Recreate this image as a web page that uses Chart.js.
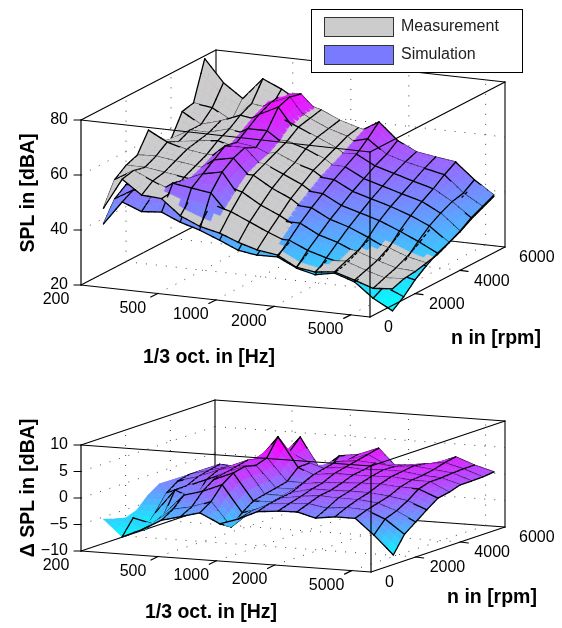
<!DOCTYPE html>
<html>
<head>
<meta charset="utf-8">
<script src="https://cdn.jsdelivr.net/npm/chart.js@4"></script>
<style>
  html, body { margin: 0; padding: 0; background: #fff; }
  #wrap { width: 562px; height: 628px; }
</style>
</head>
<body>
<div id="wrap"><canvas id="chart" width="562" height="628"></canvas></div>
<script>
// 1/3 octave bands and engine speeds of the measured grid
const frequencies = [200, 250, 315, 400, 500, 630, 800, 1000, 1250, 1600, 2000, 2500, 3150, 4000, 5000, 6300]
const speeds = [1000, 1500, 2000, 2500, 3000, 3500, 4000, 4500, 5000, 5500]

const freqTicks = [200, 500, 1000, 2000, 5000]
const speedTicks = [0, 2000, 4000, 6000]
const splTicks = [20, 40, 60, 80]
const deltaTicks = [-10, -5, 0, 5, 10]

// one row per speed, one column per band
const measurementLevels = [
  [43.7, 55, 50, 49.5, 44, 41, 39.3, 36.7, 34.7, 33.6, 30, 29, 29.8, 27.6, 25.4, 26],
  [52, 56, 53, 50, 49, 47, 45, 42, 39, 36, 33, 31, 31.5, 29, 27, 27.5],
  [55, 55, 54, 53, 52, 52, 50, 46, 43, 39, 36, 34, 33, 30.5, 28.5, 28],
  [56.6, 57, 56, 55, 54, 54, 54, 50, 47, 42, 39, 37, 35, 33, 30.5, 29],
  [63.6, 60, 58, 57, 57, 56, 56, 53, 50, 45, 42, 40, 38, 36, 33, 30],
  [57, 58, 59, 60, 58, 56, 58, 55, 53, 48, 45, 43, 41, 39, 36, 32],
  [56, 60, 60, 62, 61, 60, 60, 58, 55, 50, 47, 45, 43, 41, 38, 34],
  [64, 60, 62, 65, 64, 66, 63, 60, 57, 52, 49, 47, 45, 43, 40, 36.5],
  [65, 64, 60, 67, 66, 68, 64, 61, 59, 54, 51, 49, 47, 45, 42, 38.5],
  [79, 71, 66, 74, 71, 67, 65, 62, 60, 58, 54, 51, 49, 47.5, 44, 40.5]
]

const simulationLevels = [
  [38, 46.7, 44, 44.6, 41.7, 39.6, 36.7, 33.8, 32.8, 33, 29.7, 28, 29.4, 27, 21.8, 18],
  [45, 49, 48, 53, 52, 51, 43, 39, 37, 37, 34, 32, 30.5, 27.5, 24, 21],
  [48, 49, 50, 52, 55, 56.5, 47, 44, 41, 41, 37.5, 35.5, 32.5, 29.5, 26.5, 25],
  [51, 51, 53, 53, 58, 59.4, 52, 47, 45, 44.5, 41, 39, 36, 32.5, 30, 28],
  [59, 56, 55, 55, 61, 61, 54, 50, 48, 47.5, 44, 42, 40, 37, 34, 30.5],
  [54, 56, 57, 57, 60, 59, 56, 53, 51, 50.5, 47, 45, 43, 40.5, 37.5, 32.2],
  [53, 58, 58, 59, 63, 63, 58, 55.5, 53, 53, 49.5, 47.5, 45.5, 43.5, 40, 34.2],
  [60, 58, 60, 62, 66, 69.5, 60, 58, 55, 55.5, 52, 50, 48, 46, 42, 37],
  [61, 61, 57, 64, 68, 71, 62, 59, 57, 59, 54, 52, 50.5, 49, 43, 39],
  [75, 66, 63, 70, 69, 70, 63, 60, 58.5, 63, 57, 53.6, 52.5, 51.5, 45.8, 41]
]

const deltaLevels = [
  [-5.4, -8.5, -6.9, -4.8, -3.9, -2.9, -4.7, -3.5, -1.9, -1.5, -1.4, -2.3, -1.8, -1.8, -4.7, -8.2],
  [-6.1, -5.6, -6.5, -3.5, -2.8, -1.5, -6, -3, -1.2, -0.8, -0.6, -1.2, -0.8, -1, -2.4, -5],
  [-6.6, -8.6, -5.5, -1.5, -0.5, 1, -4, -3, -0.8, -0.2, 0.2, 0, 0, -0.4, -1.6, -3.4],
  [-5.8, -6, -1.5, -3, 1, 2.5, -2.5, -2.5, -0.5, 0.5, 0.5, 0.6, 0.6, 0.2, -0.4, -1.8],
  [-3.7, -3, -1.5, 0, 1.5, 3, -2, -2, 0.5, 1, 1.2, 1.4, 1.5, 1.2, 1.15, -0.3],
  [-2.3, -1.5, -0.5, 1, 2, 2.5, -1.5, -1.5, 1.5, 2, 2, 2, 2.2, 1.8, 1.8, 0.1],
  [-2.4, -1, 0, 1, 2.5, 3.2, -1, -1, 2, 2.5, 2.3, 2.5, 2.5, 2, 1.8, 0.8],
  [-2.6, -1, 0.5, -0.1, 1.9, 6.5, 1, -0.5, 2.5, 3, 2.8, 2.4, 2.8, 2.4, 2, 0.8],
  [-2.8, -1.9, -0.5, -0.5, 1, 2.9, 1.1, 0, 2, 3.5, 1.8, 2, 2.5, 3, 2.1, 0.85],
  [-2.9, -4, -2, -0.2, 0.8, 5.05, -0.9, 2, 2.5, 4, 0.5, 1, 1.9, 3.4, 2.1, 1.1]
]

const FONT = '"Liberation Sans", Arial, sans-serif'
const GREY = '#cccccc'
const SUBDIV = 3

const upper = {
  left: [81, 285], alongFreq: [289, 32], alongSpeed: [135, -70], height: 165,
  zMin: 20, zMax: 80, zTicks: splTicks, cLow: 18, cHigh: 74, firstColumnLine: true,
  zTitle: 'SPL in [dBA]', zTitleAt: [29, 193], fTitleAt: [209, 358], nTitleAt: [496, 339]
}
const lower = {
  left: [81, 551], alongFreq: [290, 21], alongSpeed: [134, -45], height: 106,
  zMin: -10, zMax: 10, zTicks: deltaTicks, cLow: -8.5, cHigh: 5.2, firstColumnLine: false,
  zTitle: '\u0394 SPL in [dBA]', zTitleAt: [29, 488], fTitleAt: [211, 613], nTitleAt: [492, 598]
}

const freqPos = (f) => Math.log10(f / 200) / Math.log10(6300 / 200)
const speedPos = (n) => n / 6000

function project(panel, u, v, w) {
  return {
    x: panel.left[0] + panel.alongFreq[0] * u + panel.alongSpeed[0] * v,
    y: panel.left[1] + panel.alongFreq[1] * u + panel.alongSpeed[1] * v - panel.height * w
  }
}

// larger means nearer to the viewer
function depthOf(panel, u, v, w) {
  return panel.alongSpeed[0] * u - panel.alongFreq[0] * v + panel.height * 0.9 * w
}

function coolColor(panel, z) {
  const t = Math.min(1, Math.max(0, (z - panel.cLow) / (panel.cHigh - panel.cLow)))
  return `rgb(${Math.round(255 * t)},${Math.round(255 * (1 - t))},255)`
}

function sampleGrid(panel, rows, ci, cj) {
  const i0 = Math.min(Math.floor(ci), frequencies.length - 2)
  const j0 = Math.min(Math.floor(cj), speeds.length - 2)
  const a = ci - i0
  const b = cj - j0
  const z = (rows[j0][i0] * (1 - a) + rows[j0][i0 + 1] * a) * (1 - b) +
    (rows[j0 + 1][i0] * (1 - a) + rows[j0 + 1][i0 + 1] * a) * b
  const u = freqPos(frequencies[i0]) * (1 - a) + freqPos(frequencies[i0 + 1]) * a
  const v = speedPos(speeds[j0]) * (1 - b) + speedPos(speeds[j0 + 1]) * b
  const w = (z - panel.zMin) / (panel.zMax - panel.zMin)
  return { u, v, w, z }
}

function surfaceItems(panel, rows, flatColor) {
  const items = []
  const step = 1 / SUBDIV
  const toPoint = (s) => project(panel, s.u, s.v, s.w)
  for (let j = 0; j < speeds.length - 1; j++) {
    for (let i = 0; i < frequencies.length - 1; i++) {
      for (let b = 0; b < SUBDIV; b++) {
        for (let a = 0; a < SUBDIV; a++) {
          const ci = i + a * step
          const cj = j + b * step
          const corners = [
            sampleGrid(panel, rows, ci, cj),
            sampleGrid(panel, rows, ci + step, cj),
            sampleGrid(panel, rows, ci + step, cj + step),
            sampleGrid(panel, rows, ci, cj + step)
          ]
          const mid = sampleGrid(panel, rows, ci + step / 2, cj + step / 2)
          const pts = corners.map(toPoint)
          pts.push(pts[0])
          items.push({
            pts,
            depth: depthOf(panel, mid.u, mid.v, mid.w),
            color: flatColor || coolColor(panel, mid.z),
            edge: false
          })
        }
      }
    }
  }
  // mesh lines, cut into the same pieces so they hide with the patches
  const addEdge = (s0, s1) => {
    items.push({
      pts: [toPoint(s0), toPoint(s1)],
      depth: depthOf(panel, (s0.u + s1.u) / 2, (s0.v + s1.v) / 2, (s0.w + s1.w) / 2) + 3,
      color: '#000',
      edge: true
    })
  }
  for (let j = 0; j < speeds.length; j++) {
    for (let c = 0; c < (frequencies.length - 1) * SUBDIV; c++) {
      if (!panel.firstColumnLine && c < SUBDIV) continue
      addEdge(sampleGrid(panel, rows, c * step, j), sampleGrid(panel, rows, (c + 1) * step, j))
    }
  }
  for (let i = panel.firstColumnLine ? 0 : 1; i < frequencies.length; i++) {
    for (let c = 0; c < (speeds.length - 1) * SUBDIV; c++) {
      addEdge(sampleGrid(panel, rows, i, c * step), sampleGrid(panel, rows, i, (c + 1) * step))
    }
  }
  return items
}

function lineSet(points, color, width, dash) {
  return {
    data: points, showLine: true, fill: false, borderColor: color, borderWidth: width,
    borderDash: dash || [], pointRadius: 0, tension: 0, clip: false, borderCapStyle: 'round'
  }
}

function itemSet(item) {
  if (item.edge) return lineSet(item.pts, item.color, 1.3)
  return {
    data: item.pts, showLine: true, fill: 'shape', backgroundColor: item.color,
    borderColor: item.color, borderWidth: 0.6, pointRadius: 0, tension: 0, clip: false
  }
}

function gridSets(panel) {
  const p = (u, v, w) => project(panel, u, v, w)
  const sets = []
  const dotted = (a, b) => {
    const ds = lineSet([a, b], '#444', 1, [1, 9])
    ds.borderCapStyle = 'butt'
    sets.push(ds)
  }
  panel.zTicks.slice(1, -1).concat(panel.zTicks.slice(0, 1)).forEach((z) => {
    const w = (z - panel.zMin) / (panel.zMax - panel.zMin)
    dotted(p(0, 0, w), p(0, 1, w))
    dotted(p(0, 1, w), p(1, 1, w))
  })
  freqTicks.slice(1).forEach((f) => {
    dotted(p(freqPos(f), 0, 0), p(freqPos(f), 1, 0))
    dotted(p(freqPos(f), 1, 0), p(freqPos(f), 1, 1))
  })
  speedTicks.slice(1, -1).forEach((n) => {
    dotted(p(0, speedPos(n), 0), p(1, speedPos(n), 0))
    dotted(p(0, speedPos(n), 0), p(0, speedPos(n), 1))
  })
  return sets
}

function backBoxSets(panel) {
  const p = (u, v, w) => project(panel, u, v, w)
  return [
    [p(0, 0, 0), p(0, 1, 0)], [p(0, 1, 0), p(1, 1, 0)], [p(0, 1, 0), p(0, 1, 1)],
    [p(0, 0, 1), p(0, 1, 1)], [p(0, 1, 1), p(1, 1, 1)], [p(1, 1, 0), p(1, 1, 1)]
  ].map((seg) => lineSet(seg, '#000', 1.1))
}

function frontBoxSets(panel) {
  const p = (u, v, w) => project(panel, u, v, w)
  const segs = [
    [p(0, 0, 0), p(1, 0, 0)], [p(1, 0, 0), p(1, 1, 0)], [p(0, 0, 0), p(0, 0, 1)],
    [p(0, 0, 1), p(1, 0, 1)], [p(1, 0, 1), p(1, 1, 1)], [p(1, 0, 0), p(1, 0, 1)]
  ]
  panel.zTicks.forEach((z) => {
    const a = p(0, 0, (z - panel.zMin) / (panel.zMax - panel.zMin))
    segs.push([a, { x: a.x - 7, y: a.y }])
  })
  freqTicks.slice(1).forEach((f) => {
    const a = p(freqPos(f), 0, 0)
    segs.push([a, { x: a.x - 7, y: a.y + 3.5 }])
  })
  speedTicks.slice(1, -1).forEach((n) => {
    const a = p(1, speedPos(n), 0)
    segs.push([a, { x: a.x + 8, y: a.y + 1 }])
  })
  return segs.map((seg) => lineSet(seg, '#000', 1.2))
}

function panelSets(panel, surfaces) {
  const items = surfaces.flat().sort((a, b) => b.depth - a.depth)
  return frontBoxSets(panel).concat(items.map(itemSet), gridSets(panel), backBoxSets(panel))
}

const datasets = panelSets(upper, [
  surfaceItems(upper, simulationLevels),
  surfaceItems(upper, measurementLevels, GREY)
]).concat(panelSets(lower, [surfaceItems(lower, deltaLevels)]))

function drawPanelText(ctx, panel) {
  ctx.fillStyle = '#000'
  ctx.font = `16px ${FONT}`
  ctx.textBaseline = 'middle'
  ctx.textAlign = 'right'
  panel.zTicks.forEach((z) => {
    const a = project(panel, 0, 0, (z - panel.zMin) / (panel.zMax - panel.zMin))
    ctx.fillText(String(z).replace('-', '\u2212'), a.x - 13, a.y)
  })
  ctx.textAlign = 'center'
  freqTicks.forEach((f) => {
    const a = project(panel, freqPos(f), 0, 0)
    ctx.fillText(String(f), a.x - 25, a.y + 15)
  })
  ctx.textAlign = 'left'
  speedTicks.forEach((n) => {
    const a = project(panel, 1, speedPos(n), 0)
    ctx.fillText(String(n), a.x + 14, a.y + 11)
  })
  ctx.font = `bold 19.5px ${FONT}`
  ctx.textAlign = 'center'
  ctx.fillText('1/3 oct. in [Hz]', panel.fTitleAt[0], panel.fTitleAt[1])
  ctx.fillText('n in [rpm]', panel.nTitleAt[0], panel.nTitleAt[1])
  ctx.save()
  ctx.translate(panel.zTitleAt[0], panel.zTitleAt[1])
  ctx.rotate(-Math.PI / 2)
  ctx.fillText(panel.zTitle, 0, 0)
  ctx.restore()
}

const textPlugin = {
  id: 'panelText',
  afterDraw(chart) {
    const ctx = chart.ctx
    ctx.save()
    drawPanelText(ctx, upper)
    drawPanelText(ctx, lower)
    // legend box
    ctx.fillStyle = '#fff'
    ctx.strokeStyle = '#000'
    ctx.lineWidth = 1
    ctx.fillRect(311, 9, 212, 64)
    ctx.strokeRect(311.5, 9.5, 211, 63)
    ctx.strokeStyle = '#333'
    ctx.fillStyle = GREY
    ctx.fillRect(324, 17, 70, 20)
    ctx.strokeRect(324.5, 17.5, 69, 19)
    ctx.fillStyle = '#7a7aff'
    ctx.fillRect(324, 45, 70, 20)
    ctx.strokeRect(324.5, 45.5, 69, 19)
    ctx.fillStyle = '#222'
    ctx.font = `16px ${FONT}`
    ctx.textAlign = 'left'
    ctx.fillText('Measurement', 401, 27)
    ctx.fillText('Simulation', 401, 55)
    ctx.restore()
  }
}

new Chart(document.getElementById('chart'), {
  type: 'scatter',
  data: { datasets },
  plugins: [textPlugin],
  options: {
    responsive: false,
    animation: false,
    events: [],
    parsing: false,
    normalized: true,
    layout: { padding: 0 },
    scales: {
      x: { type: 'linear', display: false, min: 0, max: 562 },
      y: { type: 'linear', display: false, min: 0, max: 628, reverse: true }
    },
    plugins: { legend: { display: false }, tooltip: { enabled: false } }
  }
})
</script>
</body>
</html>
